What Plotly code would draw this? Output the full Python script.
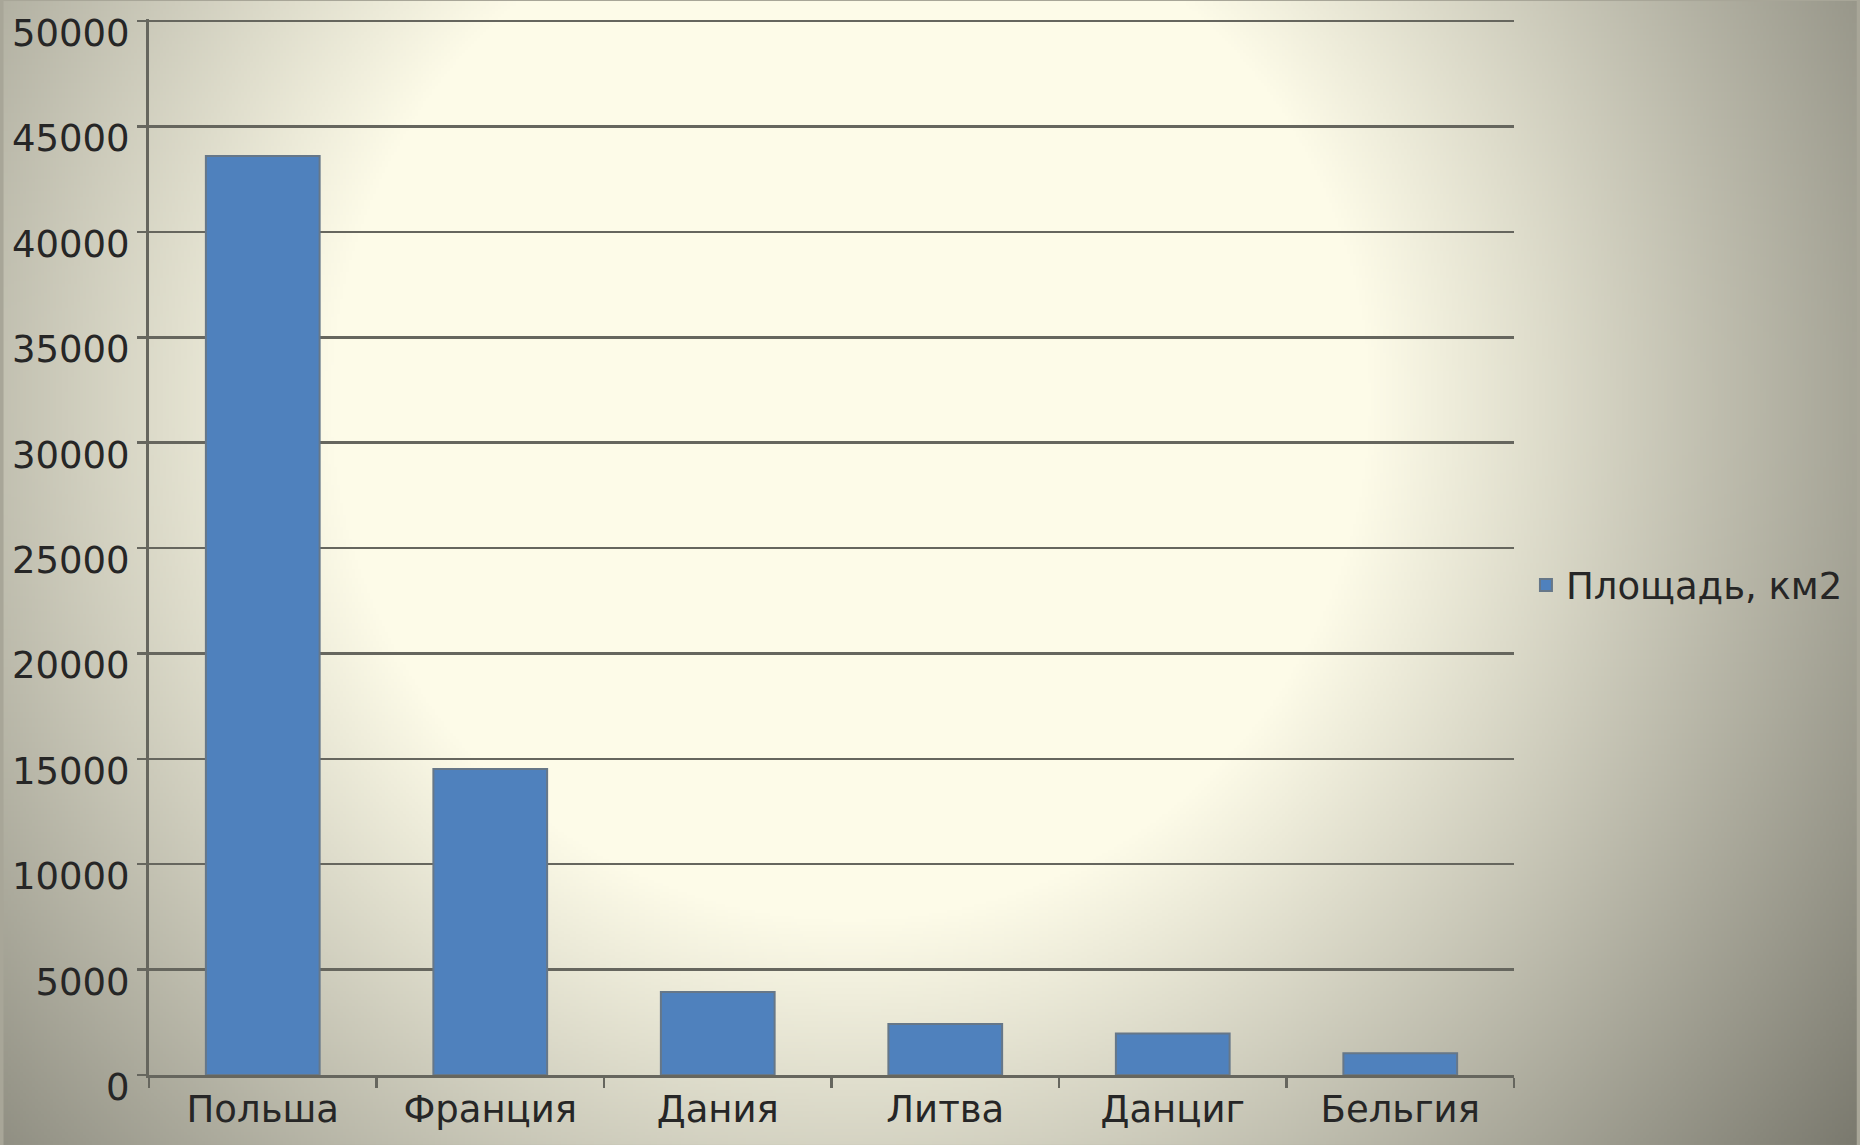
import base64
import struct
import zlib

import numpy as np
import plotly.graph_objects as go

# ---- data ----
categories = ["Польша", "Франция", "Дания", "Литва", "Данциг", "Бельгия"]
area_km2 = [43600, 14522, 3938, 2416, 1966, 1036]
series_name = "Площадь, км2"
y_tick_values = [0, 5000, 10000, 15000, 20000, 25000, 30000, 35000, 40000, 45000, 50000]
y_range = [0, 50100]

# ---- figure geometry ----
W, H = 1860, 1145
ML, MR, MT, MB = 146, 344, 18, 70
PW, PH = W - ML - MR, H - MT - MB


def make_png(arr):
    h, w, _ = arr.shape
    raw = b"".join(b"\x00" + arr[r].tobytes() for r in range(h))

    def chunk(tag, data):
        c = struct.pack(">I", len(data)) + tag + data
        return c + struct.pack(">I", zlib.crc32(tag + data) & 0xFFFFFFFF)

    return (b"\x89PNG\r\n\x1a\n"
            + chunk(b"IHDR", struct.pack(">IIBBBBB", w, h, 8, 2, 0, 0, 0))
            + chunk(b"IDAT", zlib.compress(raw, 9))
            + chunk(b"IEND", b""))


# radial background glow (cream centre fading to grey corners)
S = 3
gw, gh = W // S, int(np.ceil(H / S))
xs = (np.arange(gw) + 0.5) * S
ys = (np.arange(gh) + 0.5) * S
X, Y = np.meshgrid(xs, ys)
d = np.hypot(X - 850, Y - 400)
t = np.clip((d - 520) / (1255 - 520), 0, 1)[..., None]
cream = np.array([253, 251, 232], dtype=float)
dark = np.array([122, 121, 110], dtype=float)
img = (cream + (dark - cream) * t).round().clip(0, 255).astype(np.uint8)
bg_uri = "data:image/png;base64," + base64.b64encode(make_png(img)).decode()

FONT = "DejaVu Sans"
TXT = "#262626"
GRID = "#66665e"

fig = go.Figure()
fig.add_trace(go.Bar(
    x=categories,
    y=area_km2,
    name=series_name,
    marker=dict(color="#4f81bd", line=dict(color="#667788", width=2)),
    showlegend=True,
    hoverinfo="skip",
))

fig.update_layout(
    width=W,
    height=H,
    autosize=False,
    hovermode=False,
    margin=dict(l=ML, r=MR, t=MT, b=MB, pad=0),
    paper_bgcolor="rgba(0,0,0,0)",
    plot_bgcolor="rgba(0,0,0,0)",
    font=dict(family=FONT, size=37, color=TXT),
    bargap=0.5,
    showlegend=True,
    legend=dict(
        x=(1528 - ML) / PW, xanchor="left",
        y=(MT + PH - 585) / PH, yanchor="middle",
        bgcolor="rgba(0,0,0,0)",
        font=dict(family=FONT, size=37, color=TXT),
        itemclick=False,
    ),
    images=[dict(
        source=bg_uri,
        xref="paper", yref="paper",
        x=-ML / PW, y=1 + MT / PH,
        sizex=W / PW, sizey=H / PH,
        xanchor="left", yanchor="top",
        sizing="stretch",
        layer="below",
    )],
)

fig.update_yaxes(
    range=y_range,
    tickvals=y_tick_values,
    ticktext=[str(v) for v in y_tick_values],
    ticklabeloverflow="allow",
    ticklabelshift=12,
    showgrid=True,
    gridcolor=GRID,
    gridwidth=2.5,
    zeroline=False,
    showline=True,
    linecolor=GRID,
    linewidth=3,
    ticks="outside",
    ticklen=9,
    tickwidth=2.5,
    tickcolor=GRID,
    tickfont=dict(family=FONT, size=37, color=TXT),
)

fig.update_xaxes(
    type="category",
    showgrid=False,
    showline=True,
    linecolor=GRID,
    linewidth=3,
    ticks="outside",
    tickson="boundaries",
    ticklen=10,
    tickwidth=2.5,
    tickcolor=GRID,
    ticklabelstandoff=0,
    tickfont=dict(family=FONT, size=37, color=TXT),
)

post = """
var b = document.body;
b.style.margin = '0';
b.style.background = '#a8a698';
"""

fig.write_html(
    "out.html",
    config={"displayModeBar": False, "responsive": False, "staticPlot": True},
    post_script=post,
)
